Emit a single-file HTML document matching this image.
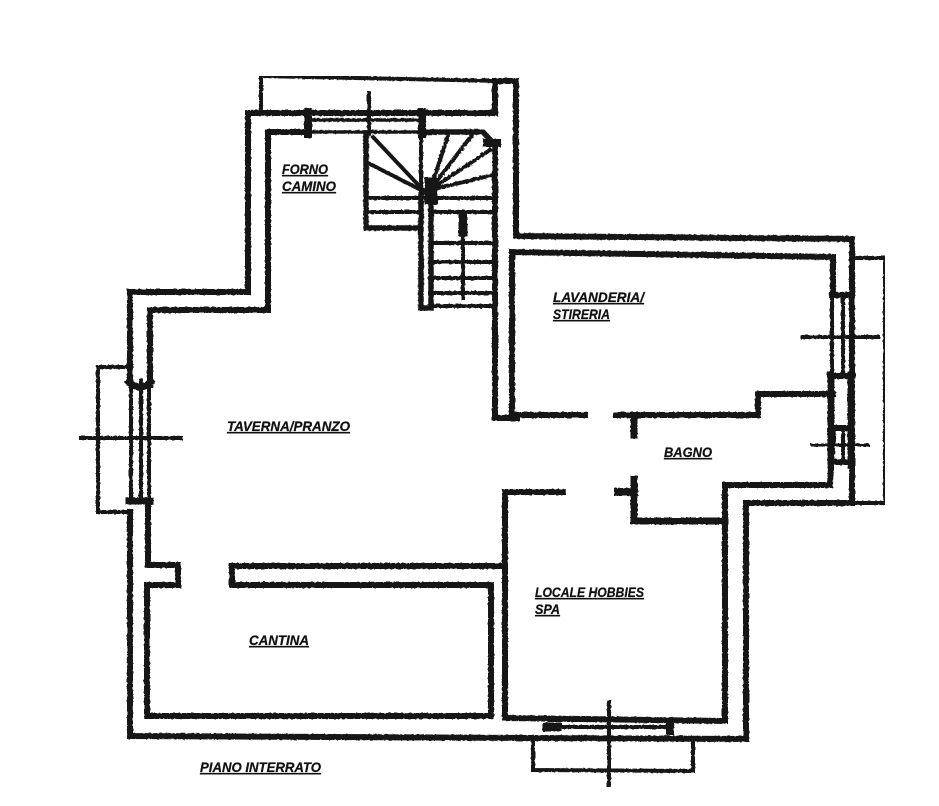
<!DOCTYPE html>
<html><head><meta charset="utf-8"><style>
html,body{margin:0;padding:0;background:#fff}
svg{display:block}
text{font-family:"Liberation Sans",sans-serif;font-weight:bold;font-style:italic;font-size:14px;text-decoration:underline;fill:#111;stroke:#111;stroke-width:.25}
</style></head><body>
<svg width="939" height="806" viewBox="0 0 939 806" xmlns="http://www.w3.org/2000/svg">
<defs><filter id="r" x="0" y="0" width="100%" height="100%"><feTurbulence type="fractalNoise" baseFrequency="0.35" numOctaves="2" seed="4"/><feDisplacementMap in="SourceGraphic" scale="2.2"/></filter></defs>
<rect width="939" height="806" fill="#fff"/>
<g fill="none" stroke="#151515" stroke-linecap="square" stroke-linejoin="miter" filter="url(#r)">
<!-- thin outer boxes -->
<g stroke-width="4">
<path d="M261 108V76L500 81"/>
<path d="M852 258H885V503H852"/>
<path d="M130 367H98V512H130"/>
<path d="M533 740V770L693 771V738"/>
</g>
<!-- main walls -->
<g stroke-width="6">
<path d="M495 113V81H516V236L852 239V503H746V739L130 736V512"/>
<path d="M130 383V292H248V113H495"/>
<path d="M268 310V132H305"/>
<path d="M268 310H150V385"/>
<path d="M148 500V565H178V585H147V716H491V585H232V566H503"/>
<path d="M563 492H505V718L725 721V485H830L833 430"/>
<path d="M833 295V257L512 252V415H585"/>
<path d="M616 415H758V394H833"/>
<path d="M495 145V418H517"/>
<path d="M634 415V435" stroke-width="7"/>
<path d="M634 479V521H725" stroke-width="7"/>
<path d="M618 492H634" stroke-width="8"/>
<path d="M831 375V465" stroke-width="7"/>
<path d="M851 375V465" stroke-width="7"/>
</g>
<!-- stairs -->
<g stroke-width="5.5">
<path d="M422 132H483L495 145"/>
<path d="M366 133V228H420"/>
<path d="M421 195V308H431V190"/>
</g>
<g stroke-width="4">
<path d="M421 133V195"/>
<path d="M425 192L373 137M425 192L368 163M430 190L449 133M430 190L472 135M430 190L490 150M430 190L493 175"/>
<path d="M366 198H495M366 212H420M430 212H495M430 243H495M430 262H495M430 278H495M430 293H495M430 306H495"/>
<path d="M463 212V298"/>
</g>
<path d="M463 218V232" stroke-width="9"/>
<path d="M431 184V198" stroke-width="13"/>
<path d="M487 143H497" stroke-width="8"/>
<!-- top window -->
<g stroke-width="3.5">
<path d="M308 120H422M308 113H422M308 132H422"/>
<path d="M369 93V133" stroke-width="4"/>
</g>
<path d="M308 112V134M422 112V134" stroke-width="8"/>
<!-- left window -->
<g stroke-width="4">
<path d="M131 380V500M141 380V500M149 380V500"/>
<path d="M79 438H181"/>
</g>
<path d="M129 382Q140 392 151 382M129 501H150" stroke-width="7"/>
<!-- right windows -->
<g stroke-width="4">
<path d="M832 295V375M843 295V375M851 295V375"/>
<path d="M832 428V462M843 428V462M851 428V462"/>
<path d="M802 337H878"/>
<path d="M812 445H868" stroke-width="3"/>
</g>
<path d="M832 295H851M830 376H853M834 428H852M834 462H850" stroke-width="6"/>
<!-- bottom window -->
<g stroke-width="4">
<path d="M550 720H670M550 727H670"/>
<path d="M609 702V787"/>
</g>
<path d="M547 727H557" stroke-width="9"/>
<path d="M670 722V731" stroke-width="8"/>
</g>
<text x="282" y="174" textLength="46" lengthAdjust="spacingAndGlyphs">FORNO</text>
<text x="282" y="191" textLength="54" lengthAdjust="spacingAndGlyphs">CAMINO</text>
<text x="553" y="302" textLength="91" lengthAdjust="spacingAndGlyphs">LAVANDERIA/</text>
<text x="553" y="319" textLength="57" lengthAdjust="spacingAndGlyphs">STIRERIA</text>
<text x="227" y="431" textLength="123" lengthAdjust="spacingAndGlyphs">TAVERNA/PRANZO</text>
<text x="664" y="457" textLength="48" lengthAdjust="spacingAndGlyphs">BAGNO</text>
<text x="535" y="597" textLength="109" lengthAdjust="spacingAndGlyphs">LOCALE HOBBIES</text>
<text x="535" y="614" textLength="25" lengthAdjust="spacingAndGlyphs">SPA</text>
<text x="249" y="645" textLength="60" lengthAdjust="spacingAndGlyphs">CANTINA</text>
<text x="200" y="772" textLength="121" lengthAdjust="spacingAndGlyphs">PIANO INTERRATO</text>
</svg>
</body></html>
